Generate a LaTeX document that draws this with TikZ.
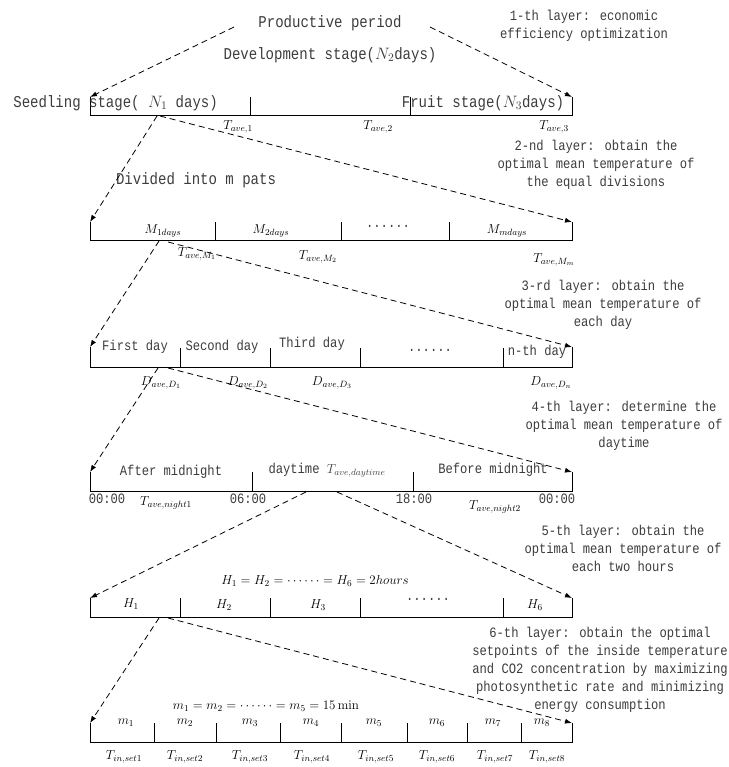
\RequirePackage{fix-cm}
\documentclass[tikz,border=0pt]{standalone}
\usepackage[no-math]{fontspec}
\setmainfont{Liberation Mono}[FakeStretch=0.85]
\usetikzlibrary{arrows.meta}
\definecolor{txtgray}{RGB}{60,60,60}

\begin{document}
\begin{tikzpicture}[x=1pt,y=-1pt,line width=0.8pt,
  big/.style={text=txtgray,font=\fontsize{16.5}{18}\selectfont,inner sep=0pt},
  txt/.style={text=txtgray,font=\fontsize{14.3}{18}\selectfont,inner sep=0pt},
  layer/.style={txt,align=center},
  sym/.style={font=\fontsize{13}{15}\selectfont,inner sep=0pt},
  arr/.style={dash pattern=on 6pt off 4pt,-{Latex[length=7pt,width=5pt]}}]
  \useasboundingbox (0,0) rectangle (728,767);

  % bars
  \coordinate (b1l) at (90,97);  \coordinate (b1r) at (572,97);
  \coordinate (b2l) at (90,222); \coordinate (b2r) at (572,222);
  \coordinate (b3l) at (90,347); \coordinate (b3r) at (572,347);
  \coordinate (b4l) at (90,472); \coordinate (b4r) at (572,472);
  \coordinate (b5l) at (90,598); \coordinate (b5r) at (572,598);
  \coordinate (b6l) at (90,723); \coordinate (b6r) at (572,723);
  \draw (b1l) |- (572,115) -- (b1r);
  \draw (b2l) |- (572,240) -- (b2r);
  \draw (b3l) |- (572,367) -- (b3r);
  \draw (b4l) |- (572,491) -- (b4r);
  \draw (b5l) |- (572,617) -- (b5r);
  \draw (b6l) |- (572,742) -- (b6r);
  \foreach \x in {250,410} \draw (\x,97) -- (\x,115);
  \foreach \x in {215,341,449} \draw (\x,222) -- (\x,240);
  \foreach \x in {180,270,360,503} \draw (\x,348) -- (\x,367);
  \foreach \x in {252,413} \draw (\x,472) -- (\x,491);
  \foreach \x in {180,270,360,503} \draw (\x,598) -- (\x,617);
  \foreach \x in {154,216,280,341,407,467,521} \draw (\x,723) -- (\x,742);

  % 1-th layer
  \node[big] (prod) at (330,23) {Productive period};
  \node[layer] (lay1) at (584,26) {1-th layer: economic\\efficiency optimization};
  \node[big] (dev) at (330,55) {Development stage($N_2$days)};
  \node[big,anchor=west] (seed) at (13,103) {Seedling stage( $N_1$ days)};
  \node[big] (fruit) at (483,103) {Fruit stage($N_3$days)};
  \node[sym] (t1) at (238,127) {$T_{ave,1}$};
  \node[sym] (t2) at (378,127) {$T_{ave,2}$};
  \node[sym] (t3) at (554,127) {$T_{ave,3}$};
  \coordinate (s0l) at (234,27); \coordinate (s0r) at (430,27);
  \path [arr] (s0l) edge (b1l);
  \path [arr] (s0r) edge (b1r);

  % 2-nd layer
  \node[layer] (lay2) at (596,165) {2-nd layer: obtain the\\optimal mean temperature of\\the equal divisions};
  \node[big] (div) at (196,180) {Divided into m pats};
  \node[sym] (m1d) at (163,231) {$M_{1days}$};
  \node[sym] (m2d) at (271,231) {$M_{2days}$};
  \node[txt] (dots2) at (388,226) {......};
  \node[sym] (mmd) at (507,231) {$M_{mdays}$};
  \node[sym] (tm1) at (197,254) {$T_{ave,M_1}$};
  \node[sym] (tm2) at (318,257) {$T_{ave,M_2}$};
  \node[sym] (tmm) at (554,260) {$T_{ave,M_m}$};
  \coordinate (s1a) at (157,116); \coordinate (s1b) at (160,116);
  \path [arr] (s1a) edge (b2l);
  \path [arr] (s1b) edge (b2r);

  % 3-rd layer
  \node[layer] (lay3) at (603,305) {3-rd layer: obtain the\\optimal mean temperature of\\each day};
  \node[txt] (day1) at (135,347) {First day};
  \node[txt] (day2) at (222,347) {Second day};
  \node[txt] (day3) at (312,344) {Third day};
  \node[txt] (dots3) at (430,350) {......};
  \node[txt] (dayn) at (537,352) {n-th day};
  \node[sym] (d1) at (161,383) {$D_{ave,D_1}$};
  \node[sym] (d2) at (248,383) {$D_{ave,D_2}$};
  \node[sym] (d3) at (332,383) {$D_{ave,D_3}$};
  \node[sym] (dn) at (551,383) {$D_{ave,D_n}$};
  \coordinate (s2a) at (159,241); \coordinate (s2b) at (168,242);
  \path [arr] (s2a) edge (b3l);
  \path [arr] (s2b) edge (b3r);

  % 4-th layer
  \node[layer] (lay4) at (624,426) {4-th layer: determine the\\optimal mean temperature of\\daytime};
  \node[txt] (amid) at (171,472) {After midnight};
  \node[txt] (dayt) at (327,470) {daytime \fontsize{13}{15}\selectfont$T_{ave,daytime}$};
  \node[txt] (bmid) at (493,470) {Before midnight};
  \node[txt] (h00a) at (107,499) {00:00};
  \node[sym] (tn1) at (166,503) {$T_{ave,night1}$};
  \node[txt] (h06) at (248,499) {06:00};
  \node[txt] (h18) at (414,499) {18:00};
  \node[txt] (h00b) at (557,499) {00:00};
  \node[sym] (tn2) at (495,507) {$T_{ave,night2}$};
  \coordinate (s3a) at (158,368); \coordinate (s3b) at (168,368);
  \path [arr] (s3a) edge (b4l);
  \path [arr] (s3b) edge (b4r);

  % 5-th layer
  \node[layer] (lay5) at (623,548) {5-th layer: obtain the\\optimal mean temperature of\\each two hours};
  \node[sym] (heq) at (315,581) {$H_1=H_2=\cdots\cdots=H_6=2hours$};
  \node[sym] (hh1) at (131,604) {$H_1$};
  \node[sym] (hh2) at (224,605) {$H_2$};
  \node[sym] (hh3) at (318,605) {$H_3$};
  \node[txt] (dots5) at (428,599) {......};
  \node[sym] (hh6) at (535,605) {$H_6$};
  \coordinate (s4a) at (306,492); \coordinate (s4b) at (337,492);
  \path [arr] (s4a) edge (b5l);
  \path [arr] (s4b) edge (b5r);

  % 6-th layer
  \node[layer] (lay6) at (600,670) {6-th layer: obtain the optimal\\setpoints of the inside temperature\\and CO2 concentration by maximizing\\photosynthetic rate and minimizing\\energy consumption};
  \node[sym] (meq) at (266,706) {$m_1=m_2=\cdots\cdots=m_5=15\,\mathrm{min}$};
  \foreach \x [count=\i] in {126,185,250,311,374,437,493,542}
    \node[sym] (mm\i) at (\x,723) {$m_\i$};
  \foreach \x [count=\i] in {124,185,250,312,376,437,495,547}
    \node[sym] (ts\i) at (\x,757) {$T_{in,set\i}$};
  \coordinate (s5a) at (159,618); \coordinate (s5b) at (168,618);
  \path [arr] (s5a) edge (b6l);
  \path [arr] (s5b) edge (b6r);
\end{tikzpicture}
\end{document}
